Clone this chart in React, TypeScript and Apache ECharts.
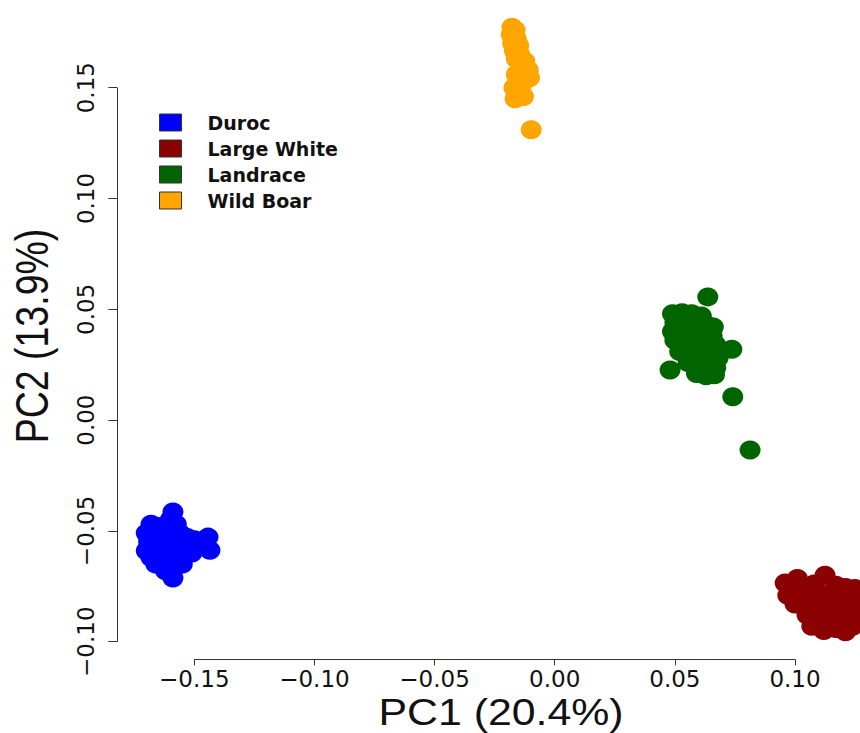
import React, { useEffect, useRef } from "react";
import * as echarts from "echarts";

const SERIES_NAMES = ["Duroc", "Large White", "Landrace", "Wild Boar"];
const COLORS = ["#0000FF", "#8B0000", "#006400", "#FFA500"];
const X_TICKS = [-0.15, -0.1, -0.05, 0, 0.05, 0.1];
const Y_TICKS = [-0.1, -0.05, 0, 0.05, 0.1, 0.15];
const X_RANGE = [-0.18205, 0.12705];
const Y_RANGE = [-0.10794, 0.18958];
const X_TITLE = "PC1 (20.4%)";
const Y_TITLE = "PC2 (13.9%)";

const duroc: number[][] = [
  [-0.1589, -0.0415], [-0.16, -0.045], [-0.1575, -0.047], [-0.168, -0.047], [-0.165, -0.048],
  [-0.17, -0.051], [-0.162, -0.05], [-0.156, -0.051], [-0.153, -0.053], [-0.169, -0.055],
  [-0.166, -0.054], [-0.16, -0.054], [-0.157, -0.056], [-0.15, -0.054], [-0.1443, -0.0528],
  [-0.1435, -0.0587], [-0.148, -0.057], [-0.17, -0.059], [-0.164, -0.058], [-0.159, -0.06],
  [-0.154, -0.059], [-0.168, -0.062], [-0.162, -0.063], [-0.156, -0.062], [-0.151, -0.06],
  [-0.166, -0.065], [-0.16, -0.066], [-0.155, -0.065], [-0.1589, -0.0713], [-0.162, -0.068],
];

const largeWhite: number[][] = [
  [0.0959, -0.0735], [0.101, -0.0715], [0.1125, -0.07], [0.108, -0.074], [0.117, -0.0745],
  [0.121, -0.0755], [0.125, -0.076], [0.097, -0.079], [0.102, -0.0785], [0.106, -0.079],
  [0.11, -0.078], [0.115, -0.079], [0.12, -0.08], [0.124, -0.081], [0.1, -0.083],
  [0.104, -0.084], [0.109, -0.083], [0.113, -0.0845], [0.118, -0.084], [0.123, -0.086],
  [0.126, -0.085], [0.105, -0.088], [0.11, -0.089], [0.115, -0.088], [0.12, -0.09],
  [0.125, -0.0905], [0.107, -0.093], [0.112, -0.095], [0.117, -0.094], [0.121, -0.0955],
  [0.124, -0.093],
];

const landrace: number[][] = [
  [0.049, 0.048], [0.053, 0.0485], [0.057, 0.048], [0.061, 0.047], [0.05, 0.044],
  [0.0545, 0.0445], [0.059, 0.044], [0.063, 0.043], [0.066, 0.042], [0.049, 0.04],
  [0.053, 0.0395], [0.0575, 0.04], [0.0615, 0.039], [0.0655, 0.038], [0.05, 0.036],
  [0.0545, 0.035], [0.059, 0.0355], [0.0635, 0.0345], [0.067, 0.034], [0.052, 0.031],
  [0.0565, 0.0305], [0.0605, 0.03], [0.0645, 0.0295], [0.068, 0.028], [0.0555, 0.026],
  [0.06, 0.0255], [0.064, 0.025], [0.067, 0.0235], [0.059, 0.021], [0.063, 0.02],
  [0.0665, 0.0205], [0.0637, 0.0556], [0.0737, 0.032], [0.048, 0.0226], [0.0741, 0.0105],
  [0.0813, -0.0135],
];

const wildBoar: number[][] = [
  [-0.0178, 0.1773], [-0.0165, 0.176], [-0.0181, 0.174], [-0.016, 0.172], [-0.0175, 0.17],
  [-0.015, 0.169], [-0.0168, 0.1668], [-0.0145, 0.165], [-0.016, 0.163], [-0.0125, 0.162],
  [-0.011, 0.158], [-0.014, 0.1575], [-0.016, 0.156], [-0.0105, 0.1545], [-0.0135, 0.152],
  [-0.017, 0.15], [-0.015, 0.147], [-0.0165, 0.145], [-0.013, 0.146], [-0.0098, 0.131],
];

const SERIES_DATA = [duroc, largeWhite, landrace, wildBoar];

const fmt = (v: number) => {
  const s = Math.abs(v) < 1e-9 ? "0.00" : v.toFixed(2);
  return s.replace("-", "\u2212");
};

export default function App() {
  const ref = useRef<HTMLDivElement>(null);
  useEffect(() => {
    if (!ref.current) return;
    const chart = echarts.init(ref.current, null, { renderer: "svg" });
    const tickFont = { fontFamily: "DejaVu Sans", fontSize: 23, color: "#111" };
    const series: any[] = SERIES_NAMES.map((name, i) => ({
      name,
      type: "scatter",
      data: SERIES_DATA[i],
      symbol: "circle",
      symbolSize: [21, 19],
      itemStyle: { color: COLORS[i], opacity: 1 },
      emphasis: { disabled: true },
      clip: false,
    }));
    series[0].markLine = {
      silent: true,
      symbol: ["none", "none"],
      label: { show: false },
      emphasis: { disabled: true },
      lineStyle: { color: "#333", width: 1, type: "solid" },
      data: [
        [{ coord: [X_TICKS[0], Y_RANGE[0]] }, { coord: [X_TICKS[X_TICKS.length - 1], Y_RANGE[0]] }],
        [{ coord: [X_RANGE[0], Y_TICKS[0]] }, { coord: [X_RANGE[0], Y_TICKS[Y_TICKS.length - 1]] }],
      ],
    };
    chart.setOption({
      animation: false,
      backgroundColor: "#ffffff",
      grid: { left: 117.3, right: 0, top: 0, bottom: 73.7, containLabel: false },
      legend: {
        data: SERIES_NAMES,
        orient: "vertical",
        left: 154,
        top: 108,
        itemWidth: 22,
        itemHeight: 17,
        itemGap: 7,
        icon: "rect",
        selectedMode: false,
        itemStyle: { borderColor: "#333", borderWidth: 1 },
        textStyle: {
          fontFamily: "DejaVu Sans",
          fontWeight: "bold",
          fontSize: 19,
          color: "#111",
          lineHeight: 17,
          padding: [0, 0, 0, 21],
        },
      },
      xAxis: {
        type: "value",
        min: X_RANGE[0],
        max: X_RANGE[1],
        axisLine: { show: false, onZero: false },
        splitLine: { show: false },
        axisTick: {
          show: true,
          length: 6,
          customValues: X_TICKS,
          lineStyle: { color: "#333", width: 1 },
        },
        axisLabel: {
          show: true,
          customValues: X_TICKS,
          formatter: fmt,
          margin: 8,
          ...tickFont,
        },
      },
      yAxis: {
        type: "value",
        min: Y_RANGE[0],
        max: Y_RANGE[1],
        axisLine: { show: false, onZero: false },
        splitLine: { show: false },
        axisTick: {
          show: true,
          length: 9,
          customValues: Y_TICKS,
          lineStyle: { color: "#333", width: 1 },
        },
        axisLabel: {
          show: true,
          customValues: Y_TICKS,
          formatter: fmt,
          rotate: 90,
          margin: 20,
          ...tickFont,
        },
      },
      graphic: [
        {
          type: "text",
          x: 501,
          y: 712,
          scaleX: 1.19,
          silent: true,
          style: {
            text: X_TITLE,
            x: 0,
            y: 0,
            align: "center",
            verticalAlign: "middle",
            fontFamily: "Liberation Sans",
            fontSize: 36,
            fill: "#111",
          },
        },
        {
          type: "text",
          x: 32.5,
          y: 336,
          rotation: Math.PI / 2,
          scaleY: 1.22,
          silent: true,
          style: {
            text: Y_TITLE,
            x: 0,
            y: 0,
            align: "center",
            verticalAlign: "middle",
            fontFamily: "Liberation Sans",
            fontSize: 37.5,
            fill: "#111",
          },
        },
      ],
      series,
    });
    return () => chart.dispose();
  }, []);
  return (
    <div
      ref={ref}
      style={{ position: "absolute", left: 0, top: 0, width: 860, height: 733, background: "#fff" }}
    />
  );
}
